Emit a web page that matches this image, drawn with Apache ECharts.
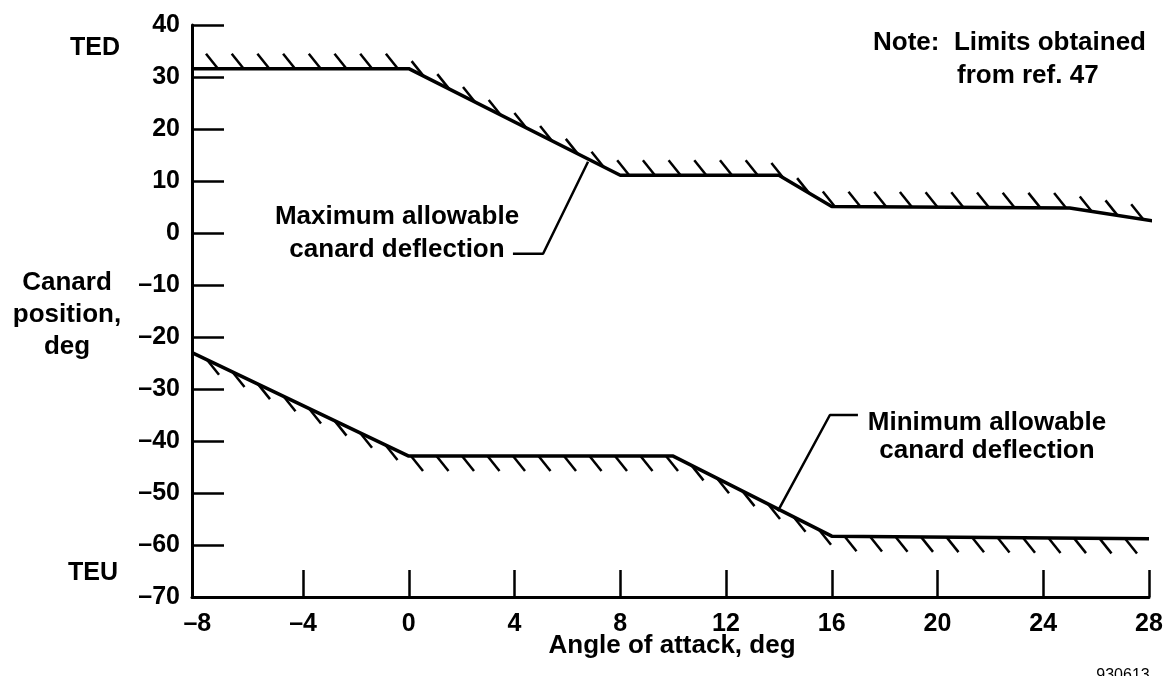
<!DOCTYPE html>
<html><head><meta charset="utf-8">
<script src="https://cdn.jsdelivr.net/npm/echarts@6/dist/echarts.min.js"></script>
<style>html,body{margin:0;padding:0;background:#fff}#c{width:1176px;height:676px}</style>
</head><body><div id="c"></div>
<script>
// ---- data ----
const xLabelValues = [-8, -4, 0, 4, 8, 12, 16, 20, 24, 28];
const xTickValues = [-4, 0, 4, 8, 12, 16, 20, 24, 28];
const maxX = [-8.2, 0, 8, 14, 16, 25, 28.2];
const maxY = [31.6, 31.6, 11.1, 11.1, 5.1, 4.8, 2.3];
const minX = [-8.2, 0, 10, 16, 28];
const minY = [-23, -42.9, -42.9, -58.3, -58.8];
const maxLeaderX = [3.94, 5.08, 6.78];
const maxLeaderY = [-4.0, -4.0, 13.7];
const minLeaderX = [16.99, 15.93, 13.96];
const minLeaderY = [-35, -35, -53.5];

const FONT = '"Liberation Sans", Arial, Helvetica, sans-serif';
const pairs = (xs, ys) => xs.map((x, i) => [x, ys[i]]);

function hatchRenderer(xs, ys, dir, start, step) {
  return function (params, api) {
    if (params.dataIndex !== 0) return null;
    const pts = xs.map((x, i) => api.coord([x, ys[i]]));
    const x0 = pts[0][0], x1 = pts[pts.length - 1][0];
    const children = [];
    for (let px = x0 + start; px <= x1 - 8; px += step) {
      let py = null;
      for (let i = 0; i < pts.length - 1; i++) {
        if (px >= pts[i][0] && px <= pts[i + 1][0]) {
          const t = (px - pts[i][0]) / (pts[i + 1][0] - pts[i][0]);
          py = pts[i][1] + t * (pts[i + 1][1] - pts[i][1]);
          break;
        }
      }
      if (py === null) continue;
      children.push({
        type: 'line',
        shape: { x1: px, y1: py, x2: px + dir * 12, y2: py + dir * 15 },
        style: { stroke: '#000', lineWidth: 2.5 }
      });
    }
    return { type: 'group', children };
  };
}

const chart = echarts.init(document.getElementById('c'), null, { renderer: 'canvas' });
const txt = (text, x, y, align, size) => ({
  type: 'text', x, y,
  style: { text, fill: '#000', font: 'bold ' + (size || 26) + 'px ' + FONT, textAlign: align || 'center', textVerticalAlign: 'middle' }
});

chart.setOption({
  animation: false,
  backgroundColor: '#fff',
  grid: { left: 192, right: 27, top: 25, bottom: 79, containLabel: false },
  xAxis: {
    type: 'value', min: -8.2, max: 28,
    axisLine: { show: true, onZero: false, lineStyle: { color: '#000', width: 3 } },
    axisTick: { show: true, inside: true, length: 27, customValues: xTickValues, lineStyle: { color: '#000', width: 2.5 } },
    axisLabel: {
      customValues: xLabelValues, margin: 15, color: '#000', fontFamily: FONT, fontWeight: 'bold', fontSize: 25,
      formatter: v => String(v).replace('-', '\u2013')
    },
    splitLine: { show: false }
  },
  yAxis: {
    type: 'value', min: -70, max: 40, interval: 10,
    axisLine: { show: true, onZero: false, lineStyle: { color: '#000', width: 3 } },
    axisTick: { show: true, inside: true, length: 32, lineStyle: { color: '#000', width: 2.5 } },
    axisLabel: {
      margin: 12, color: '#000', fontFamily: FONT, fontWeight: 'bold', fontSize: 25,
      formatter: v => String(v).replace('-', '\u2013')
    },
    splitLine: { show: false }
  },
  series: [
    { type: 'line', data: pairs(maxX, maxY), symbol: 'none', clip: false, lineStyle: { color: '#000', width: 3.5 } },
    { type: 'line', data: pairs(minX, minY), symbol: 'none', clip: false, lineStyle: { color: '#000', width: 3.5 } },
    { type: 'custom', data: pairs(maxX, maxY), clip: false, renderItem: hatchRenderer(maxX, maxY, -1, 26, 25.7) },
    { type: 'custom', data: pairs(minX, minY), clip: false, renderItem: hatchRenderer(minX, minY, 1, 15, 25.5) },
    { type: 'line', data: pairs(maxLeaderX, maxLeaderY), symbol: 'none', clip: false, lineStyle: { color: '#000', width: 2.5 } },
    { type: 'line', data: pairs(minLeaderX, minLeaderY), symbol: 'none', clip: false, lineStyle: { color: '#000', width: 2.5 } }
  ],
  graphic: [
    txt('TED', 95, 48, 'center', 25),
    txt('TEU', 93, 573, 'center', 25),
    txt('Canard', 67, 283),
    txt('position,', 67, 315),
    txt('deg', 67, 347),
    txt('Angle of attack, deg', 672, 646),
    txt('Note:  Limits obtained', 873, 43, 'left'),
    txt('from ref. 47', 957, 76, 'left'),
    txt('Maximum allowable', 397, 217),
    txt('canard deflection', 397, 250),
    txt('Minimum allowable', 987, 423),
    txt('canard deflection', 987, 451),
    { type: 'text', x: 1123, y: 676, style: { text: '930613', fill: '#000', font: '16px ' + FONT, textAlign: 'center', textVerticalAlign: 'middle' } }
  ]
});
</script>
</body></html>
